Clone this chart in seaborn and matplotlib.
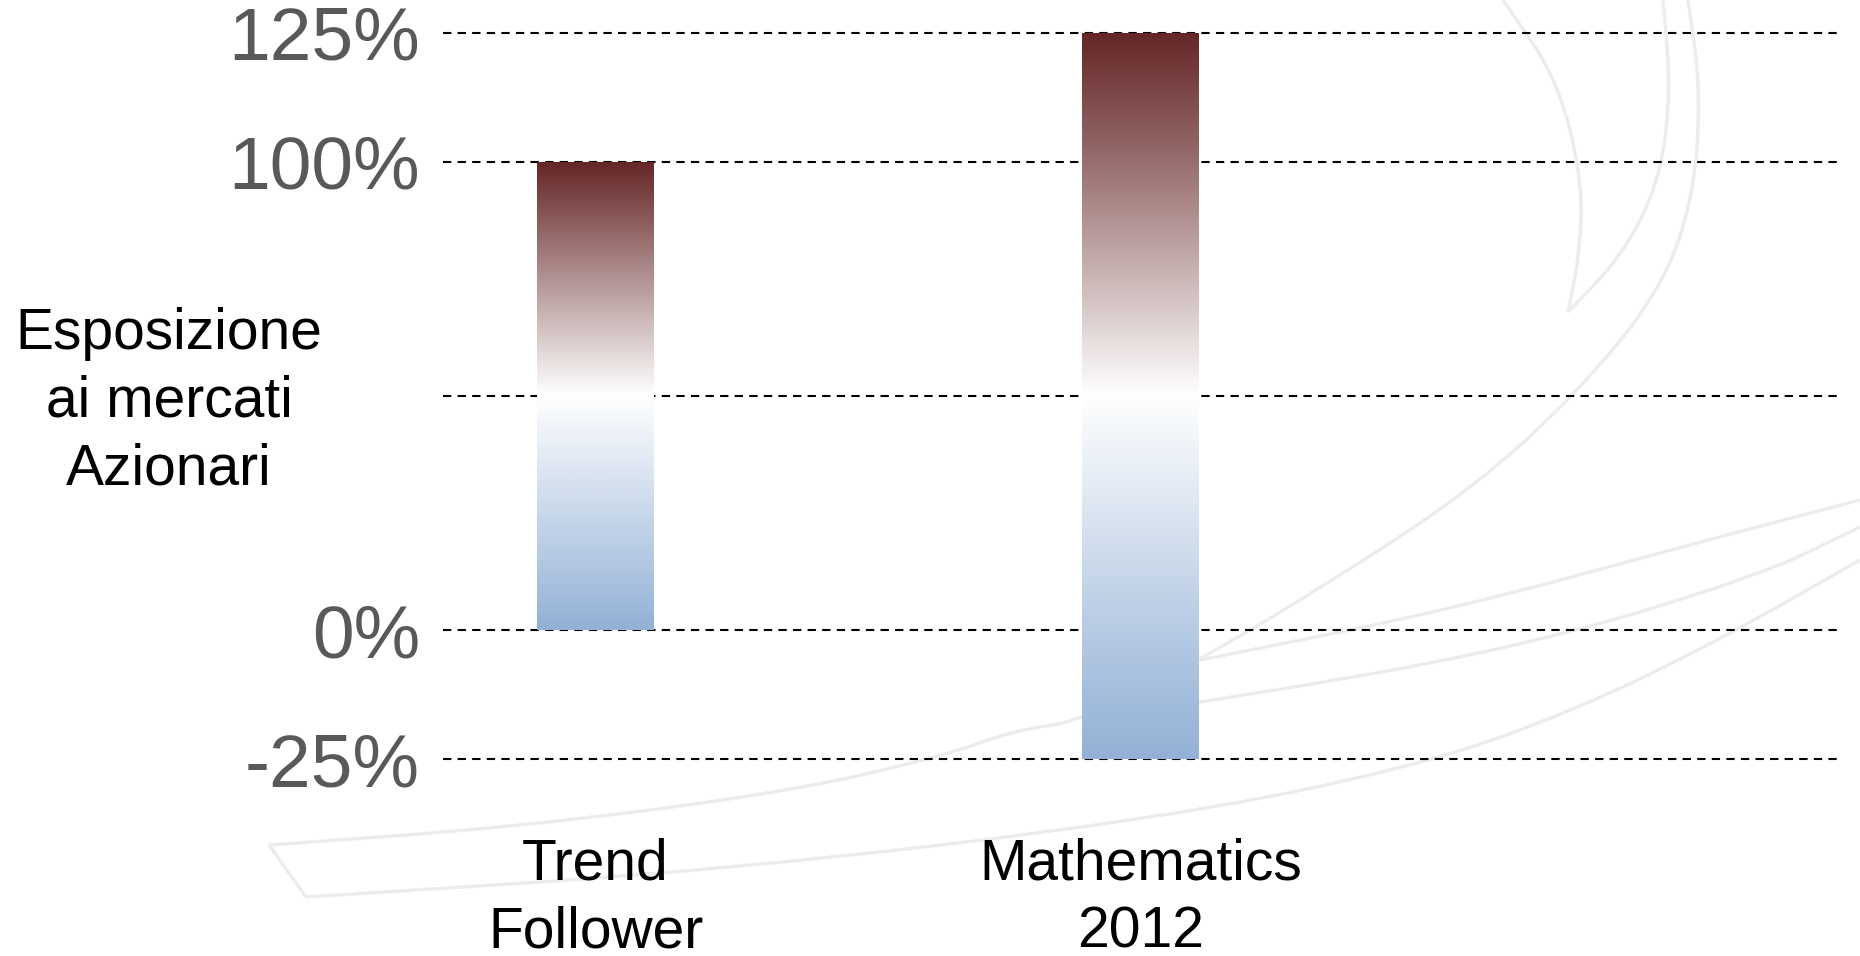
import numpy as np
import pandas as pd
import matplotlib
matplotlib.use("Agg")
import matplotlib.pyplot as plt
import seaborn as sns
from matplotlib.colors import LinearSegmentedColormap
from matplotlib.path import Path
from matplotlib.patches import PathPatch

# Exposure range of each strategy (percent of equity market exposure)
strategies = ["Trend\nFollower", "Mathematics\n2012"]
exposure_min = [0, -25]
exposure_max = [100, 125]

tick_values = [-25, 0, 50, 100, 125]
tick_labels = ["-25%", "0%", "", "100%", "125%"]
y_label = "Esposizione\nai mercati\nAzionari"

sns.set_theme(style="white")
plt.rcParams["font.family"] = ["Liberation Sans", "DejaVu Sans"]

fig = plt.figure(figsize=(18.6, 9.56), dpi=100, facecolor="white")

# faint swoosh logo in the background (figure pixel coordinates)
bg = fig.add_axes([0, 0, 1, 1], zorder=-1)
bg.set_xlim(0, 1860)
bg.set_ylim(956, 0)
bg.axis("off")


def smooth_path(pts):
    pts = np.asarray(pts, dtype=float)
    verts = [pts[0], (pts[0] + pts[1]) / 2]
    codes = [Path.MOVETO, Path.LINETO]
    for i in range(1, len(pts) - 1):
        verts += [pts[i], (pts[i] + pts[i + 1]) / 2]
        codes += [Path.CURVE3, Path.CURVE3]
    verts.append(pts[-1])
    codes.append(Path.LINETO)
    return Path(verts, codes)


logo_strokes = [
    [(1503, 0), (1558, 80), (1583, 184), (1579, 257), (1568, 312)],
    [(1663, 0), (1671, 93), (1659, 184), (1621, 257), (1568, 312)],
    [(1688, 0), (1701, 93), (1693, 202), (1659, 293), (1579, 391), (1474, 488),
     (1329, 583), (1200, 660), (1079, 722), (1015, 730), (941, 757), (782, 793),
     (518, 827), (269, 845)],
    [(269, 845), (306, 897)],
    [(306, 897), (729, 870), (1153, 820), (1417, 767), (1576, 710), (1714, 643),
     (1860, 560)],
    [(1200, 660), (1451, 610), (1696, 543), (1860, 500)],
    [(1100, 715), (1200, 703), (1512, 650), (1757, 577), (1860, 527)],
]
for stroke in logo_strokes:
    bg.add_patch(PathPatch(smooth_path(stroke), facecolor="none",
                           edgecolor="#ECECEC", lw=2.4))

# main chart
ax = fig.add_axes([443 / 1860, 0.2006, 1396 / 1860, 0.7703])
ax.set_facecolor("none")

k = 1.1026


def fwd(y):
    y = np.asarray(y, dtype=float)
    return np.where(y > 100, 100 + k * (y - 100), np.where(y < 0, k * y, y))


def inv(u):
    u = np.asarray(u, dtype=float)
    return np.where(u > 100, 100 + (u - 100) / k, np.where(u < 0, u / k, u))


df = pd.DataFrame({
    "strategy": strategies,
    "low": exposure_min,
    "high": exposure_max,
})
df["span"] = df["high"] - df["low"]

sns.barplot(data=df, x="strategy", y="span", ax=ax, width=0.2145,
            color="white", errorbar=None, zorder=3)

ax.set_yscale("function", functions=(fwd, inv))
ax.set_ylim(-26, 126)
ax.set_xlim(-0.2796, 2.2796)

cmap = LinearSegmentedColormap.from_list(
    "exposure", ["#93B1D6", "#FFFFFF", "#652626"])
grad = np.linspace(0, 1, 512).reshape(-1, 1)
for patch, lo in zip(ax.patches, df["low"]):
    patch.set_y(lo)
    patch.set_facecolor("none")
    patch.set_edgecolor("none")
    x0 = patch.get_x()
    x1 = x0 + patch.get_width()
    y0 = patch.get_y()
    y1 = y0 + patch.get_height()
    im = ax.imshow(grad, cmap=cmap, origin="lower", aspect="auto",
                   extent=[x0, x1, y0, y1], zorder=3, interpolation="bilinear")
    im.set_clip_path(patch)

ax.set_xlim(-0.2796, 2.2796)
ax.set_ylim(-26, 126)

ax.set_yticks(tick_values)
ax.set_yticklabels(tick_labels)
ax.tick_params(axis="y", length=0, pad=16.5, labelsize=54, labelcolor="#595959")
ax.tick_params(axis="x", length=0, pad=53, labelsize=41, labelcolor="black")
for lbl in ax.get_xticklabels():
    lbl.set_linespacing(1.32)

ax.yaxis.grid(True, color="black", lw=1.5, linestyle=(0, (4, 3)))
ax.xaxis.grid(False)
ax.set_axisbelow(True)
for s in ax.spines.values():
    s.set_visible(False)

ax.set_xlabel("")
ax.set_ylabel(y_label, rotation=0, fontsize=41, color="black",
              ha="center", va="center", multialignment="center",
              linespacing=1.33)
ax.yaxis.set_label_coords(-0.1963, 0.4925)

fig.savefig("out.png", dpi=100, facecolor="white")
